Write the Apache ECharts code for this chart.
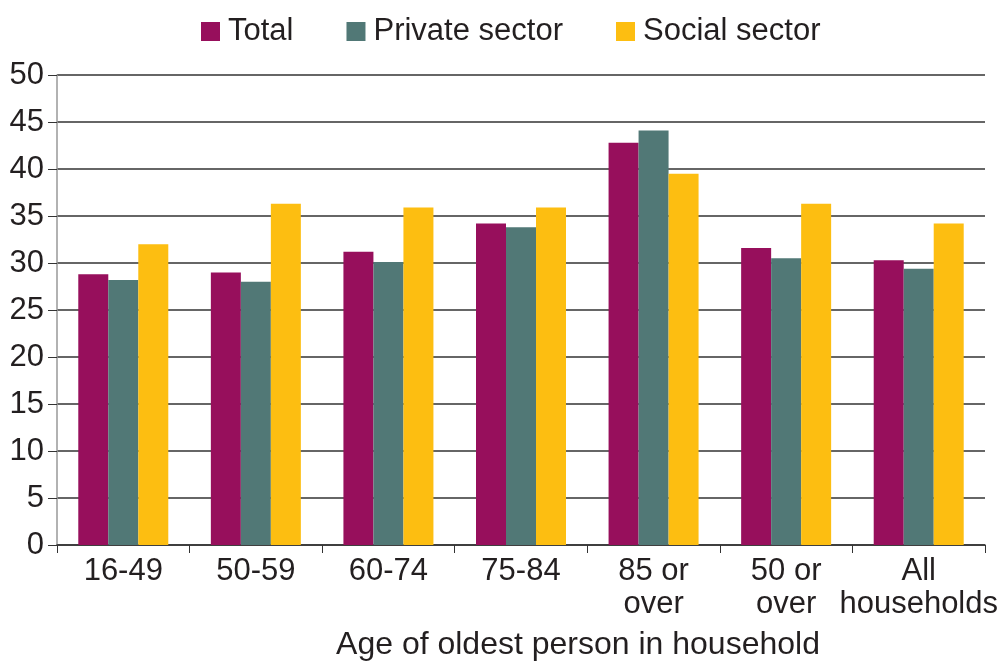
<!DOCTYPE html>
<html>
<head>
<meta charset="utf-8">
<script src="https://cdn.jsdelivr.net/npm/echarts@6/dist/echarts.min.js"></script>
<style>
  html, body { margin: 0; padding: 0; background: #fff; }
  #chart { width: 1002px; height: 661px; }
</style>
</head>
<body>
<div id="chart"></div>
<script>
// Age groups (oldest person in household)
const categories = ['16-49', '50-59', '60-74', '75-84', '85 or\nover', '50 or\nover', 'All\nhouseholds'];
const seriesNames = ['Total', 'Private sector', 'Social sector'];
const totalValues   = [28.8, 29.0, 31.2, 34.2, 42.8, 31.6, 30.3];
const privateValues = [28.2, 28.0, 30.1, 33.8, 44.1, 30.5, 29.4];
const socialValues  = [32.0, 36.3, 35.9, 35.9, 39.5, 36.3, 34.2];
const yTicks = [0, 5, 10, 15, 20, 25, 30, 35, 40, 45, 50];

const colors = ['#970F5C', '#517876', '#FDBE11'];
const font = '"Liberation Sans", Arial, sans-serif';
const textColor = '#231F20';

const chart = echarts.init(document.getElementById('chart'), null, { renderer: 'canvas' });

const valueSets = [totalValues, privateValues, socialValues];

chart.setOption({
  animation: false,
  color: colors,
  textStyle: { fontFamily: font, color: textColor },
  legend: {
    data: seriesNames,
    top: 11,
    left: 196,
    icon: 'rect',
    itemWidth: 19,
    itemHeight: 19,
    itemGap: 53,
    textStyle: { fontFamily: font, fontSize: 31, color: textColor, padding: [0, 0, 0, 3] }
  },
  grid: { left: 57, right: 17, top: 75, bottom: 116, containLabel: false, outerBoundsMode: 'none' },
  xAxis: {
    type: 'category',
    data: categories,
    boundaryGap: true,
    axisLine: { lineStyle: { color: '#333', width: 1.5 } },
    axisTick: { show: true, length: 8, alignWithLabel: false, lineStyle: { color: '#333', width: 1 } },
    axisLabel: {
      fontFamily: font, fontSize: 31, color: textColor, margin: 10, lineHeight: 33, interval: 0
    },
    name: 'Age of oldest person in household',
    nameLocation: 'middle',
    nameGap: 84,
    // the title sits right of the plot's centre
    nameTextStyle: { fontFamily: font, fontSize: 32, color: textColor, padding: [0, 0, 0, 114] }
  },
  yAxis: {
    type: 'value',
    min: yTicks[0],
    max: yTicks[yTicks.length - 1],
    interval: 5,
    axisLine: { show: true, lineStyle: { color: '#999', width: 1.5 } },
    axisTick: { show: true, length: 9, lineStyle: { color: '#333', width: 1 } },
    axisLabel: { fontFamily: font, fontSize: 31, color: textColor, margin: 13 },
    splitLine: { show: true, lineStyle: { color: '#333', width: 1.5 } }
  },
  series: seriesNames.map((name, i) => ({
    name,
    type: 'bar',
    data: valueSets[i],
    barWidth: 30,
    barGap: '0%',
    itemStyle: { color: colors[i] }
  }))
});
</script>
</body>
</html>
